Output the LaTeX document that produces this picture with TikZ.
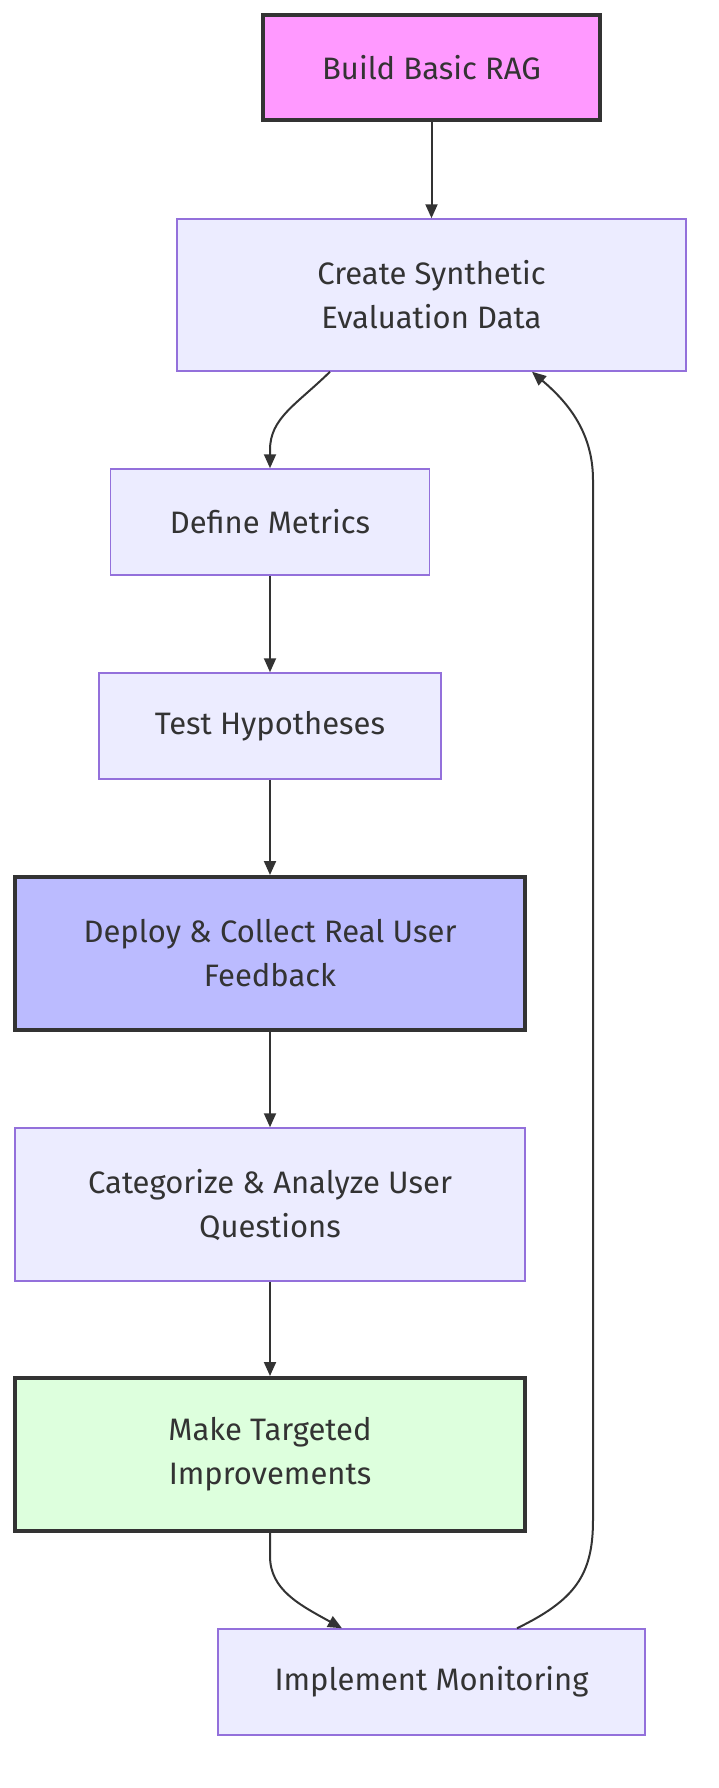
\documentclass[tikz,border=0pt]{standalone}
\usepackage{fontspec}
\setmainfont{Fira Sans}
\usetikzlibrary{arrows.meta}
\definecolor{txt}{HTML}{333333}
\definecolor{lav}{HTML}{ECECFF}
\definecolor{purp}{HTML}{9370DB}
\definecolor{pink}{HTML}{FF99FF}
\definecolor{blu}{HTML}{BBBBFF}
\definecolor{grn}{HTML}{DDFFDD}
\tikzset{
  box/.style={draw=purp, line width=1.5pt, fill=lav, text=txt, align=center,
    font=\fontsize{31}{44}\selectfont, inner sep=0pt},
  hl/.style={draw=txt, line width=4pt},
  conn/.style={draw=txt, line width=2pt, -{Triangle[length=14pt,width=12pt]}},
}
\begin{document}
\begin{tikzpicture}[x=1pt,y=-1pt]
\useasboundingbox (0,0) rectangle (718,1788);
\node[box, hl, fill=pink, minimum width=337pt, minimum height=105pt] (b) at (431.5,67.5) {Build Basic RAG};
\node[box, minimum width=509pt, minimum height=152pt] (c) at (431.5,295) {Create Synthetic\\Evaluation Data};
\node[box, minimum width=319pt, minimum height=106pt] (d) at (270,522) {Define Metrics};
\node[box, minimum width=342pt, minimum height=106pt] (t) at (270,726) {Test Hypotheses};
\node[box, hl, fill=blu, minimum width=510pt, minimum height=153pt] (dp) at (270,953.5) {Deploy \& Collect Real User\\Feedback};
\node[box, minimum width=510pt, minimum height=153pt] (cat) at (270,1204.5) {Categorize \& Analyze User\\Questions};
\node[box, hl, fill=grn, minimum width=510pt, minimum height=153pt] (m) at (270,1454.5) {Make Targeted\\Improvements};
\node[box, minimum width=427pt, minimum height=106pt] (im) at (431.5,1682) {Implement Monitoring};
\draw[conn] (b.south) -- (c.north);
\draw[conn] ([xshift=-101.5pt]c.south) .. controls (296,405) and (270,418) .. (270,450) -- (d.north);
\draw[conn] (d.south) -- (t.north);
\draw[conn] (t.south) -- (dp.north);
\draw[conn] (dp.south) -- (cat.north);
\draw[conn] (cat.south) -- (m.north);
\draw[conn] (m.south) -- (270,1556) .. controls (270,1590) and (300,1605) .. ([xshift=-89.5pt]im.north);
\draw[conn] ([xshift=85.5pt]im.north) .. controls (575,1600) and (593,1575) .. (593,1520) -- (593,480) .. controls (593,430) and (565,400) .. ([xshift=100.5pt]c.south);
\end{tikzpicture}
\end{document}
